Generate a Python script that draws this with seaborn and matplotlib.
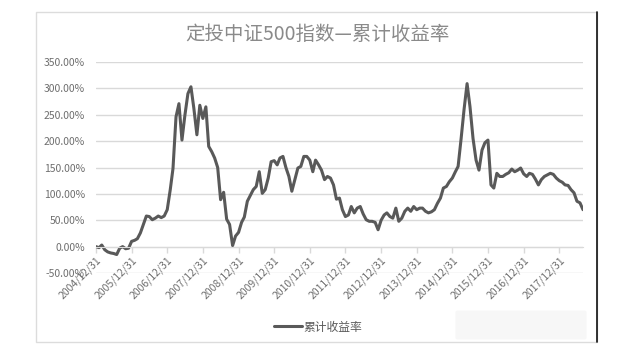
import pandas as pd
import matplotlib.pyplot as plt
from matplotlib.patches import Rectangle, FancyBboxPatch
from matplotlib.lines import Line2D
import seaborn as sns

# monthly cumulative return (%), 2004/12 .. 2018/08
returns = [
    0, -2, 3, -6, -10, -12, -13, -15, -3, 0, -4, -3,
    10, 12, 15, 26, 42, 58, 57, 51, 54, 58, 55, 58,
    70, 108, 148, 246, 271, 202, 249, 290, 303, 262, 212, 268,
    243, 265, 190, 180, 168, 150, 89, 103, 52, 42, 2, 20,
    27, 46, 56, 86, 97, 108, 114, 142, 101, 108, 130, 161,
    163, 155, 168, 171, 150, 133, 105, 127, 149, 152, 171, 171,
    164, 142, 164, 155, 145, 127, 133, 130, 117, 90, 92, 70,
    57, 60, 76, 64, 73, 76, 62, 51, 48, 48, 46, 32,
    50, 60, 64, 57, 54, 73, 48, 54, 67, 73, 67, 76,
    70, 73, 73, 67, 64, 66, 70, 82, 92, 111, 114, 123,
    130, 142, 152, 205, 260, 309, 265, 205, 164, 145, 183, 197,
    202, 117, 111, 139, 133, 133, 137, 140, 147, 142, 145, 149,
    138, 133, 139, 137, 128, 117, 127, 133, 136, 139, 137, 130,
    125, 122, 117, 116, 108, 102, 86, 83, 70,
]
start_date = '2004-12-31'
tick_years = list(range(2004, 2018))
title = '定投中证500指数—累计收益率'
series_name = '累计收益率'

dates = pd.date_range(start_date, periods=len(returns), freq='ME')
df = pd.DataFrame({'date': dates, series_name: returns})

sns.set_style('white')
plt.rcParams['font.family'] = ['Noto Sans CJK SC', 'DejaVu Sans']

fig = plt.figure(figsize=(6.4, 3.56), dpi=100)
ax = fig.add_axes([96 / 640, 1 - 273 / 356, 487 / 640, 211 / 356])

sns.lineplot(data=df, x='date', y=series_name, color='#595959', linewidth=2.2,
             ax=ax, legend=False)

ax.set_ylim(-50, 350)
ax.set_yticks(range(-50, 351, 50))
ax.set_yticklabels([f'{v:.2f}%' for v in range(-50, 351, 50)])
ax.set_xlim(dates[0], dates[-1])
ax.grid(axis='y', color='#d9d9d9', linewidth=1)
ax.grid(axis='x', visible=False)
ax.set_xlabel('')
ax.set_ylabel('')

for s in ['top', 'right', 'left']:
    ax.spines[s].set_visible(False)
ax.spines['bottom'].set_position(('data', 0))
ax.spines['bottom'].set_color('#d9d9d9')
ax.tick_params(axis='x', direction='out', length=4, width=1, color='#d9d9d9',
               pad=2, labelsize=7.5, labelcolor='#6e6e6e', bottom=True)
ax.tick_params(axis='y', length=0, pad=8, labelsize=7.5, labelcolor='#6e6e6e')

ticks = [pd.Timestamp(f'{y}-12-31') for y in tick_years]
ax.set_xticks(ticks)
ax.set_xticklabels([f'{y}/12/31' for y in tick_years])
for lab in ax.get_xticklabels():
    lab.set_rotation(45)
    lab.set_ha('right')
    lab.set_rotation_mode('anchor')

fig.text(317 / 640, 1 - 34 / 356, title, ha='center', va='center',
         fontsize=14, color='#8a8a8a', fontweight='light')

handle = Line2D([], [], color='#595959', linewidth=2.2)
fig.legend([handle], [series_name], loc='center', bbox_to_anchor=(318 / 640, 1 - 327 / 356),
           frameon=False, fontsize=8.5, handlelength=2.4, handletextpad=0.1,
           labelcolor='#595959')

# chart area border (right edge is darker in the source)
fig.add_artist(Rectangle((36 / 640, 1 - 342 / 356), 561 / 640, 330 / 356,
                         transform=fig.transFigure, fill=False,
                         edgecolor='#dcdcdc', linewidth=1))
fig.add_artist(Line2D([597 / 640, 597 / 640], [1 - 342 / 356, 1 - 12 / 356],
                      transform=fig.transFigure, color='#111111', linewidth=1.2))
# faint watermark patch bottom right
fig.add_artist(FancyBboxPatch((458 / 640, 1 - 338 / 356), 126 / 640, 26 / 356,
                              boxstyle='round,pad=0.004', transform=fig.transFigure,
                              facecolor='#f7f7f7', edgecolor='none'))

fig.savefig('out.png', dpi=100)
plt.close(fig)
